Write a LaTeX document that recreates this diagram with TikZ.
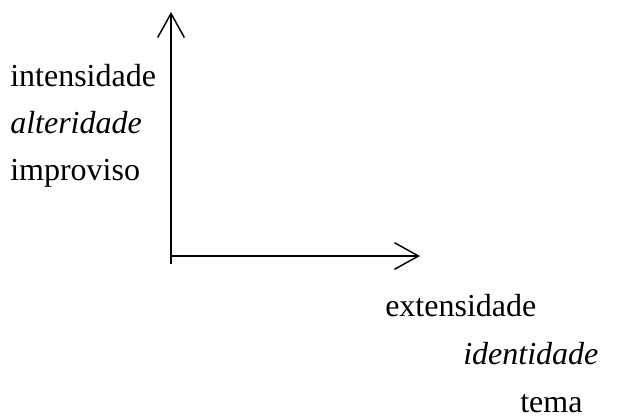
\documentclass[tikz,border=0pt]{standalone}
\usepackage{fontspec}
\setmainfont{Liberation Serif}
\usetikzlibrary{arrows.meta}
\begin{document}
\begin{tikzpicture}[x=0.75pt,y=-0.75pt,
  axis/.style={line width=1.1pt,-{Straight Barb[length=18pt,width=20pt,line width=1.1pt]}},
  lbl/.style={anchor=base west,inner sep=0pt,font=\fontsize{24}{28}\selectfont}]
\useasboundingbox (0,0) rectangle (617,418);
\coordinate (bot) at (171,264);
\coordinate (org) at (171,256);
\coordinate (top) at (171,12);
\coordinate (right) at (420,256);
\draw[axis] (bot) -- (top);
\draw[axis] (org) -- (right);
\node[lbl] (int) at (10,86) {intensidade};
\node[lbl] (alt) at (10,133) {\itshape alteridade};
\node[lbl] (imp) at (10,180) {improviso};
\node[lbl] (ext) at (385,316) {extensidade};
\node[lbl] (ide) at (463,364) {\itshape identidade};
\node[lbl] (tem) at (520,412) {tema};
\end{tikzpicture}
\end{document}
